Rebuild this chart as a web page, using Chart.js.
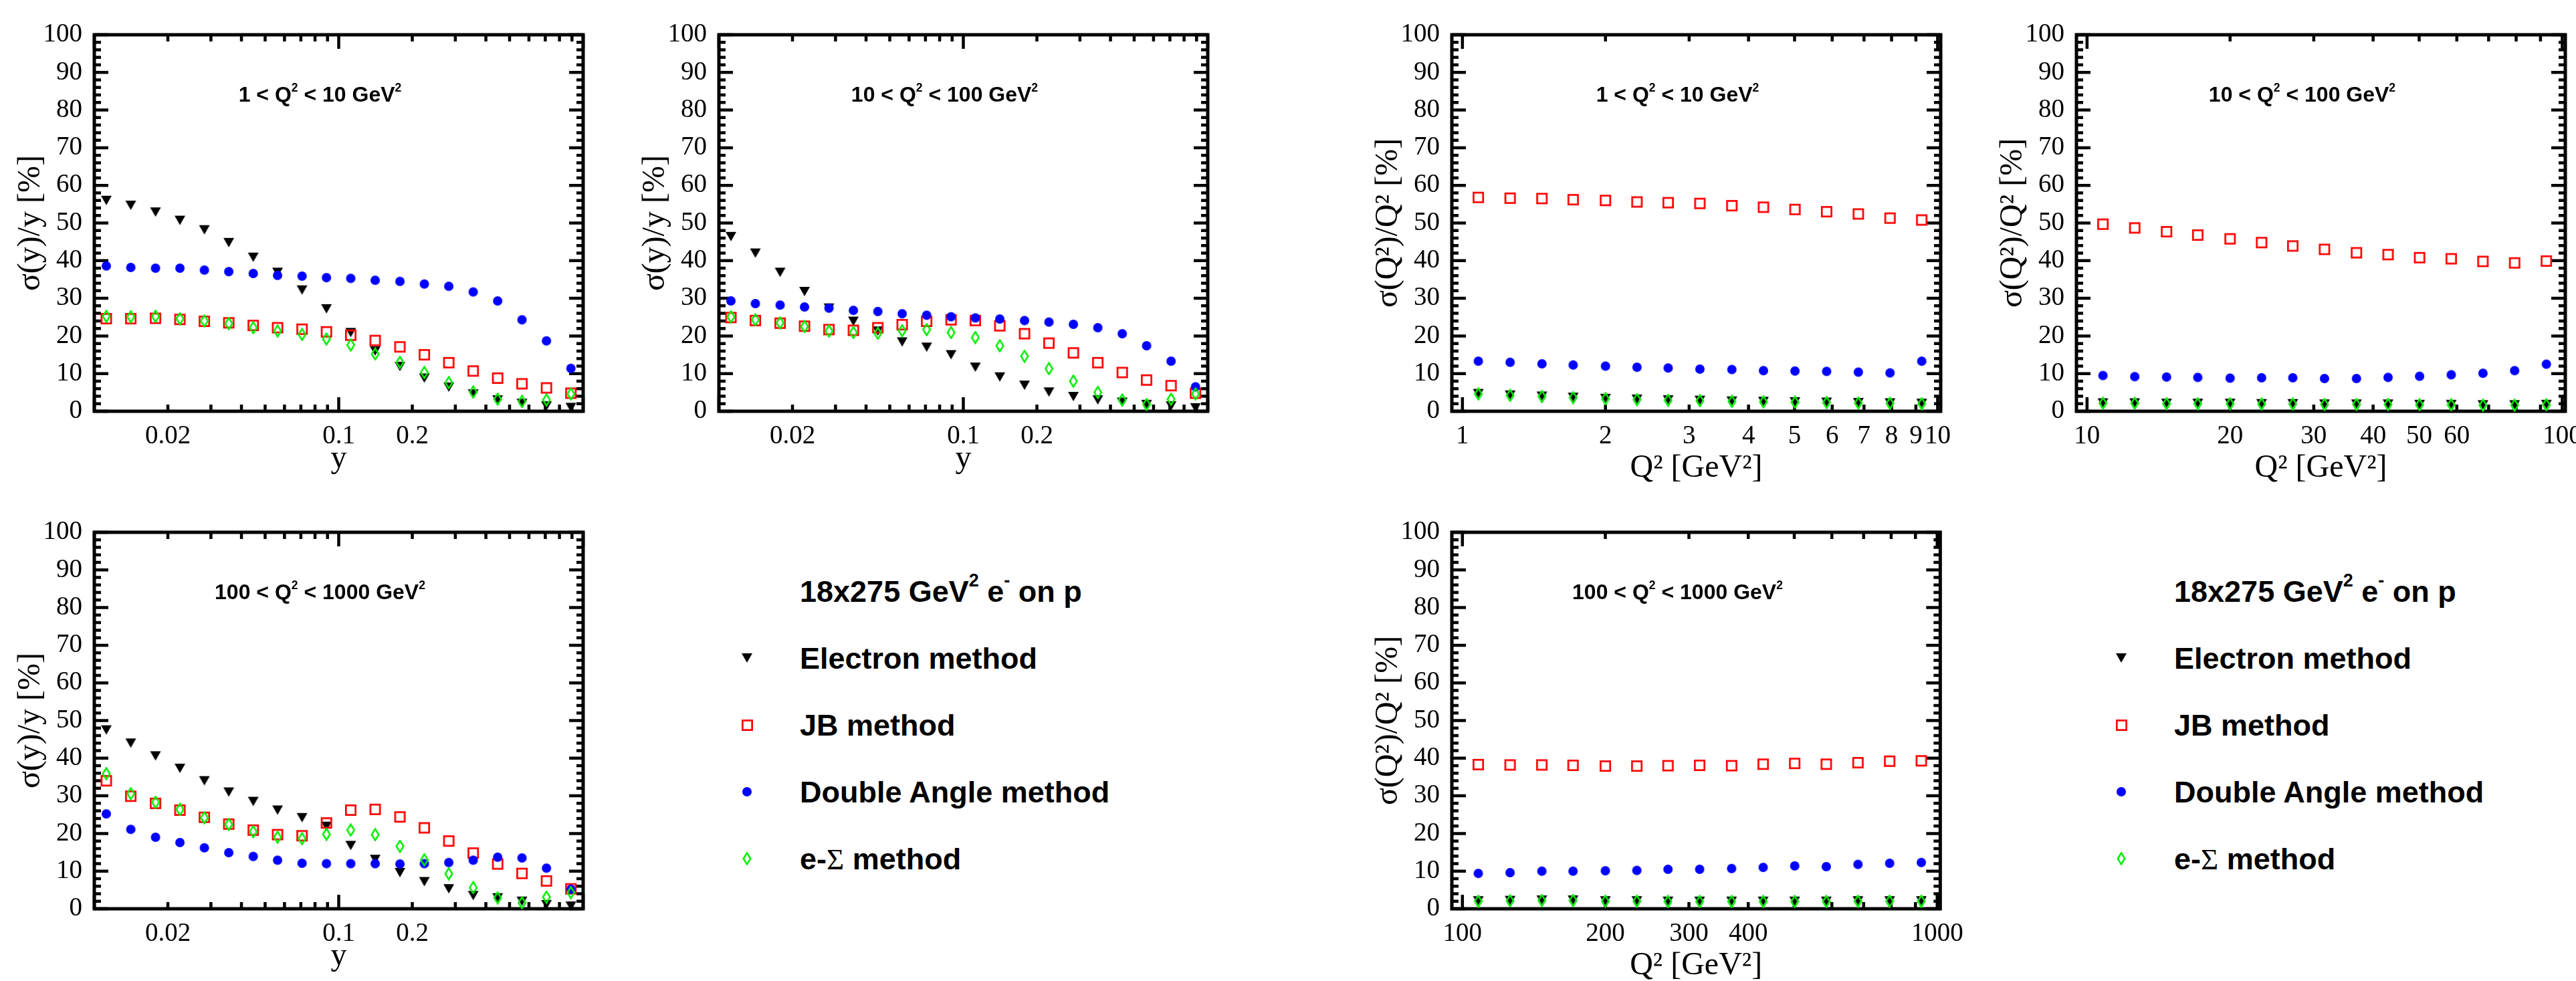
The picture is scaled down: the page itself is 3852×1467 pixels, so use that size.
<!DOCTYPE html>
<html>
<head>
<meta charset="utf-8">
<title>Resolution of y and Q2 reconstruction methods, 18x275 GeV2 e- on p</title>
<script src="https://cdn.jsdelivr.net/npm/chart.js@4.4.1/dist/chart.umd.min.js"></script>
<style>
  html, body { margin: 0; padding: 0; background: #fff; }
  body { position: relative; width: 3852px; height: 1467px; overflow: hidden; }
  .pane { position: absolute; }
  .ptitle { position: absolute; font: bold 32px "Liberation Sans", Arial, Helvetica, sans-serif;
            line-height: 32px; text-align: center; white-space: nowrap; color: #000; }
  .leg { position: absolute; font: bold 45px "Liberation Sans", Arial, Helvetica, sans-serif;
         line-height: 45px; white-space: nowrap; color: #000; }
  sup { font-size: 0.55em; line-height: 0; vertical-align: baseline; position: relative; top: -0.85em; }
  .leg sup { font-size: 0.6em; top: -0.87em; }
  .sym { font-family: "Liberation Serif", "Times New Roman", serif; font-weight: normal; }
  .mk { position: absolute; }
</style>
</head>
<body>
<script>
// ---- bin centres -------------------------------------------------------
const Y_BINS = [0.0112, 0.0141, 0.0178, 0.0224, 0.0282, 0.0355, 0.0447, 0.0562, 0.0708, 0.0891,
                0.112, 0.141, 0.178, 0.224, 0.282, 0.355, 0.447, 0.562, 0.708, 0.891];
const Q2_LOW  = [1.08, 1.26, 1.47, 1.71, 2.00, 2.33, 2.71, 3.16, 3.69, 4.30, 5.01, 5.84, 6.81, 7.94, 9.26];
const Q2_MID  = [10.8, 12.6, 14.7, 17.1, 20.0, 23.3, 27.1, 31.6, 36.9, 43.0, 50.1, 58.4, 68.1, 79.4, 92.6];
const Q2_HIGH = [108, 126, 147, 171, 200, 233, 271, 316, 369, 430, 501, 584, 681, 794, 926];

// ---- sigma(y)/y [%], 1 < Q2 < 10 GeV2 ---------------------------------
const ELEC_Y_LOW = [56.0, 54.7, 52.9, 50.7, 48.2, 44.8, 40.9, 36.9, 32.2, 27.2, 20.9, 16.0, 11.9, 8.8, 6.4, 4.6, 3.0, 2.1, 1.4, 1.0];
const JB_Y_LOW   = [24.6, 24.6, 24.7, 24.4, 23.9, 23.5, 22.8, 22.2, 21.8, 21.1, 20.2, 18.8, 17.1, 15.0, 12.9, 10.7, 8.8, 7.3, 6.2, 4.8];
const DA_Y_LOW   = [38.6, 38.2, 38.0, 38.0, 37.5, 37.1, 36.6, 36.1, 35.9, 35.5, 35.3, 34.8, 34.5, 33.8, 33.2, 31.7, 29.3, 24.3, 18.7, 11.4];
const ES_Y_LOW   = [25.2, 25.1, 25.2, 24.6, 24.0, 23.3, 22.2, 21.3, 20.4, 19.2, 17.6, 15.2, 13.0, 10.3, 7.6, 5.1, 3.2, 2.6, 3.0, 4.6];

// ---- sigma(y)/y [%], 10 < Q2 < 100 GeV2 -------------------------------
const ELEC_Y_MID = [46.4, 42.0, 36.9, 31.8, 27.4, 23.9, 21.3, 18.4, 17.0, 15.0, 11.7, 9.1, 6.9, 5.1, 3.9, 3.0, 2.4, 1.8, 1.4, 0.9];
const JB_Y_MID   = [24.9, 24.1, 23.4, 22.6, 21.7, 21.5, 22.2, 23.0, 23.9, 24.3, 24.1, 22.7, 20.6, 18.1, 15.5, 12.9, 10.3, 8.3, 6.8, 4.8];
const DA_Y_MID   = [29.3, 28.6, 28.2, 27.7, 27.4, 26.8, 26.5, 25.9, 25.5, 25.1, 24.8, 24.5, 24.1, 23.7, 23.1, 22.2, 20.6, 17.4, 13.3, 6.5];
const ES_Y_MID   = [25.1, 24.3, 23.5, 22.5, 21.3, 20.9, 20.7, 21.4, 21.7, 20.9, 19.6, 17.4, 14.6, 11.3, 8.0, 5.0, 3.0, 1.8, 3.2, 4.6];

// ---- sigma(y)/y [%], 100 < Q2 < 1000 GeV2 -----------------------------
const ELEC_Y_HIGH = [47.5, 44.0, 40.6, 37.3, 34.0, 31.0, 28.5, 26.2, 24.2, 21.9, 16.8, 13.1, 9.6, 7.2, 5.3, 3.5, 2.9, 2.0, 1.1, 0.7];
const JB_Y_HIGH   = [34.0, 29.9, 28.0, 26.2, 24.3, 22.5, 20.9, 19.7, 19.4, 22.8, 26.2, 26.4, 24.4, 21.5, 18.0, 14.8, 11.9, 9.4, 7.4, 5.3];
const DA_Y_HIGH   = [25.2, 21.1, 19.0, 17.6, 16.2, 14.9, 13.9, 12.9, 12.1, 12.0, 12.0, 12.0, 11.9, 12.0, 12.3, 12.9, 13.7, 13.5, 10.8, 5.2];
const ES_Y_HIGH   = [35.9, 30.6, 28.3, 26.4, 24.2, 22.4, 20.5, 19.0, 18.6, 19.8, 20.9, 19.7, 16.6, 13.0, 9.3, 5.6, 2.9, 1.6, 3.1, 4.3];

// ---- sigma(Q2)/Q2 [%] ---------------------------------------------------
const ELEC_Q_LOW = [4.7, 4.3, 4.0, 3.7, 3.4, 3.2, 3.0, 2.9, 2.7, 2.6, 2.5, 2.4, 2.3, 2.2, 2.1];
const JB_Q_LOW   = [56.8, 56.6, 56.5, 56.2, 56.0, 55.6, 55.4, 55.2, 54.6, 54.2, 53.6, 53.0, 52.4, 51.3, 50.8];
const DA_Q_LOW   = [13.3, 13.0, 12.6, 12.3, 12.0, 11.7, 11.5, 11.2, 11.1, 10.8, 10.7, 10.6, 10.4, 10.2, 13.3];
const ES_Q_LOW   = [4.6, 4.2, 3.9, 3.6, 3.3, 3.1, 2.9, 2.8, 2.6, 2.5, 2.4, 2.3, 2.2, 2.1, 2.0];

const ELEC_Q_MID = [2.2, 2.2, 2.1, 2.1, 2.1, 2.0, 2.0, 1.9, 1.9, 1.9, 1.8, 1.8, 1.7, 1.7, 1.8];
const JB_Q_MID   = [49.7, 48.7, 47.7, 46.8, 45.8, 44.8, 43.9, 43.0, 42.1, 41.6, 40.8, 40.5, 39.8, 39.4, 39.9];
const DA_Q_MID   = [9.5, 9.2, 9.1, 9.0, 8.8, 8.9, 8.9, 8.7, 8.7, 9.0, 9.3, 9.7, 10.1, 10.8, 12.5];
const ES_Q_MID   = [2.1, 2.1, 2.0, 2.0, 2.0, 1.9, 1.9, 1.8, 1.8, 1.8, 1.7, 1.7, 1.6, 1.6, 1.7];

const ELEC_Q_HIGH = [2.1, 2.2, 2.3, 2.3, 2.1, 2.1, 2.0, 2.0, 2.0, 2.0, 2.0, 2.0, 2.1, 2.1, 2.1];
const JB_Q_HIGH   = [38.3, 38.2, 38.2, 38.1, 37.9, 37.9, 38.0, 38.1, 38.0, 38.4, 38.6, 38.4, 38.8, 39.2, 39.3];
const DA_Q_HIGH   = [9.4, 9.6, 10.0, 10.0, 10.1, 10.2, 10.5, 10.5, 10.7, 11.0, 11.4, 11.2, 11.8, 12.1, 12.3];
const ES_Q_HIGH   = [2.0, 2.1, 2.2, 2.2, 2.0, 2.0, 1.9, 1.9, 1.9, 1.9, 1.9, 1.9, 2.0, 2.0, 2.0];

// ---- axis ticks and labels ----------------------------------------------
const Y_TICK_LABELS = [0, 10, 20, 30, 40, 50, 60, 70, 80, 90, 100];
const YBIN_X_LABELS = [0.02, 0.1, 0.2];
const QLOW_X_LABELS = [1, 2, 3, 4, 5, 6, 7, 8, 9, 10];
const QMID_X_LABELS = [10, 20, 30, 40, 50, 60, 100];
const QHIGH_X_LABELS = [100, 200, 300, 400, 1000];

const METHOD_NAMES = ['Electron method', 'JB method', 'Double Angle method', 'e-Σ method'];

// ---- marker glyphs -------------------------------------------------------
function markerCanvas(kind) {
  const c = document.createElement('canvas');
  const g = c.getContext('2d');
  if (kind === 0) {            // filled triangle, pointing down
    c.width = 18; c.height = 16;
    g.fillStyle = '#000';
    g.beginPath(); g.moveTo(1, 1); g.lineTo(17, 1); g.lineTo(9, 15); g.closePath(); g.fill();
  } else if (kind === 1) {     // open square
    c.width = 19; c.height = 19;
    g.strokeStyle = '#ff0000'; g.lineWidth = 2.7;
    g.strokeRect(2.35, 2.35, 14.3, 14.3);
  } else if (kind === 2) {     // filled circle
    c.width = 16; c.height = 16;
    g.fillStyle = '#0000ff';
    g.beginPath(); g.arc(8, 8, 7, 0, Math.PI * 2); g.fill();
  } else {                     // open elongated diamond
    c.width = 14; c.height = 20;
    g.strokeStyle = '#00ee00'; g.lineWidth = 2.5; g.lineJoin = 'miter';
    g.beginPath(); g.moveTo(7, 1.5); g.lineTo(12.3, 10); g.lineTo(7, 18.5); g.lineTo(1.7, 10); g.closePath(); g.stroke();
  }
  return c;
}
const MARKERS = [0, 1, 2, 3].map(markerCanvas);
// electron underneath, e-Sigma on top
const DRAW_ORDER = [4, 3, 2, 1];

// ---- frame with inward ticks on all four sides ----------------------------
const MAJOR_LEN = 21, MINOR_LEN = 10;
const frameTicks = {
  id: 'frameTicks',
  beforeDatasetsDraw(chart, args, o) {
    const { ctx, chartArea: a } = chart;
    const xs = chart.scales.x, ys = chart.scales.y;
    ctx.save();
    ctx.strokeStyle = '#000';
    ctx.lineWidth = 4.5;
    ctx.lineCap = 'butt';
    ctx.beginPath();
    const seg = (x0, y0, x1, y1) => { ctx.moveTo(x0, y0); ctx.lineTo(x1, y1); };
    for (let v = 0; v <= 100; v += 2) {
      const py = ys.getPixelForValue(v);
      const len = v % 10 === 0 ? MAJOR_LEN : MINOR_LEN;
      seg(a.left, py, a.left + len, py);
      seg(a.right, py, a.right - len, py);
    }
    const xTick = (v, len) => {
      const px = xs.getPixelForValue(v);
      seg(px, a.bottom, px, a.bottom - len);
      seg(px, a.top, px, a.top + len);
    };
    o.major.forEach(v => xTick(v, MAJOR_LEN));
    o.minor.forEach(v => xTick(v, MINOR_LEN));
    ctx.stroke();
    ctx.lineWidth = 5;
    ctx.strokeRect(a.left, a.top, a.right - a.left, a.bottom - a.top);
    ctx.restore();
  }
};

// ---- page layout -----------------------------------------------------------
const FRAME_W = 731, FRAME_H = 563;
const PAD_L = 141, PAD_T = 40, PAD_R = 40, PAD_B = 130;

function decadeMinors(start) {
  const out = [];
  for (let m = 2; m <= 9; m++) out.push(+(m * start).toPrecision(3));
  return out;
}

const PANELS = [
  { left: 141, top: 52, xs: Y_BINS, series: [ELEC_Y_LOW, JB_Y_LOW, DA_Y_LOW, ES_Y_LOW],
    xMin: 0.01, xMax: 1, labels: YBIN_X_LABELS, major: [0.01, 0.1, 1], minor: decadeMinors(0.01).concat(decadeMinors(0.1)),
    xTitle: 'y', yTitle: 'σ(y)/y [%]', xTitlePad: 30, title: '1 &lt; Q<sup>2</sup> &lt; 10 GeV<sup>2</sup>' },
  { left: 1075, top: 52, xs: Y_BINS, series: [ELEC_Y_MID, JB_Y_MID, DA_Y_MID, ES_Y_MID],
    xMin: 0.01, xMax: 1, labels: YBIN_X_LABELS, major: [0.01, 0.1, 1], minor: decadeMinors(0.01).concat(decadeMinors(0.1)),
    xTitle: 'y', yTitle: 'σ(y)/y [%]', xTitlePad: 30, title: '10 &lt; Q<sup>2</sup> &lt; 100 GeV<sup>2</sup>' },
  { left: 2171, top: 52, xs: Q2_LOW, series: [ELEC_Q_LOW, JB_Q_LOW, DA_Q_LOW, ES_Q_LOW],
    xMin: 0.95, xMax: 10.15, labels: QLOW_X_LABELS, major: [1, 10], minor: decadeMinors(1),
    xTitle: 'Q² [GeV²]', yTitle: 'σ(Q²)/Q² [%]', xTitlePad: 16, title: '1 &lt; Q<sup>2</sup> &lt; 10 GeV<sup>2</sup>' },
  { left: 3105, top: 52, xs: Q2_MID, series: [ELEC_Q_MID, JB_Q_MID, DA_Q_MID, ES_Q_MID],
    xMin: 9.5, xMax: 101.5, labels: QMID_X_LABELS, major: [10, 100], minor: decadeMinors(10),
    xTitle: 'Q² [GeV²]', yTitle: 'σ(Q²)/Q² [%]', xTitlePad: 16, title: '10 &lt; Q<sup>2</sup> &lt; 100 GeV<sup>2</sup>' },
  { left: 141, top: 796, xs: Y_BINS, series: [ELEC_Y_HIGH, JB_Y_HIGH, DA_Y_HIGH, ES_Y_HIGH],
    xMin: 0.01, xMax: 1, labels: YBIN_X_LABELS, major: [0.01, 0.1, 1], minor: decadeMinors(0.01).concat(decadeMinors(0.1)),
    xTitle: 'y', yTitle: 'σ(y)/y [%]', xTitlePad: 30, title: '100 &lt; Q<sup>2</sup> &lt; 1000 GeV<sup>2</sup>' },
  { left: 2171, top: 796, xs: Q2_HIGH, series: [ELEC_Q_HIGH, JB_Q_HIGH, DA_Q_HIGH, ES_Q_HIGH],
    xMin: 95, xMax: 1015, labels: QHIGH_X_LABELS, major: [100, 1000], minor: decadeMinors(100),
    xTitle: 'Q² [GeV²]', yTitle: 'σ(Q²)/Q² [%]', xTitlePad: 16, title: '100 &lt; Q<sup>2</sup> &lt; 1000 GeV<sup>2</sup>' }
];

Chart.defaults.font.family = "'Liberation Serif', 'Times New Roman', Times, serif";
Chart.defaults.color = '#000';

function buildPanel(p) {
  const cv = document.createElement('canvas');
  cv.className = 'pane';
  cv.width = PAD_L + FRAME_W + PAD_R;
  cv.height = PAD_T + FRAME_H + PAD_B;
  cv.style.left = (p.left - PAD_L) + 'px';
  cv.style.top = (p.top - PAD_T) + 'px';
  document.body.appendChild(cv);

  const datasets = METHOD_NAMES.map((name, k) => ({
    label: name,
    data: p.xs.map((x, i) => ({ x: x, y: p.series[k][i] })),
    pointStyle: MARKERS[k],
    pointRadius: 7,
    pointHoverRadius: 7,
    order: DRAW_ORDER[k],
    clip: false
  }));

  new Chart(cv, {
    type: 'scatter',
    data: { datasets },
    options: {
      responsive: false,
      animation: false,
      devicePixelRatio: 1,
      events: [],
      layout: { padding: { left: 0, top: PAD_T, right: PAD_R, bottom: 0 } },
      plugins: {
        legend: { display: false },
        tooltip: { enabled: false },
        frameTicks: { major: p.major, minor: p.minor }
      },
      scales: {
        x: {
          type: 'logarithmic',
          min: p.xMin, max: p.xMax,
          grid: { display: false }, border: { display: false },
          afterFit: s => { s.height = PAD_B; },
          afterBuildTicks: s => { s.ticks = p.labels.map(v => ({ value: v })); },
          ticks: { autoSkip: false, maxRotation: 0, minRotation: 0, padding: 6,
                   font: { size: 39 }, callback: (v, i) => String(p.labels[i]) },
          title: { display: true, text: p.xTitle, font: { size: 48 }, padding: { top: 0, bottom: p.xTitlePad } }
        },
        y: {
          type: 'linear',
          min: 0, max: 100,
          grid: { display: false }, border: { display: false },
          afterFit: s => { s.width = PAD_L; },
          afterBuildTicks: s => { s.ticks = Y_TICK_LABELS.map(v => ({ value: v })); },
          ticks: { padding: 10, font: { size: 39 } },
          title: { display: true, text: p.yTitle, font: { size: 48 }, padding: { top: 18, bottom: 0 } }
        }
      }
    },
    plugins: [frameTicks]
  });

  // range caption inside the frame
  const t = document.createElement('div');
  t.className = 'ptitle';
  t.style.left = (p.left - 28) + 'px';
  t.style.top = (p.top + 73) + 'px';
  t.style.width = FRAME_W + 'px';
  t.innerHTML = p.title;
  document.body.appendChild(t);
}
PANELS.forEach(buildPanel);

// ---- legends ---------------------------------------------------------------
const LEGENDS = [ { markerX: 1117, textX: 1196 }, { markerX: 3172, textX: 3251 } ];
const LEGEND_TITLE_Y = 884;
const LEGEND_ROW_Y = [984, 1084, 1184, 1284];

function addText(html, x, yCenter) {
  const d = document.createElement('div');
  d.className = 'leg';
  d.style.left = x + 'px';
  d.style.top = (yCenter - 22) + 'px';
  d.innerHTML = html;
  document.body.appendChild(d);
}

LEGENDS.forEach(L => {
  addText('18x275 GeV<sup>2</sup> e<sup>-</sup> on p', L.textX, LEGEND_TITLE_Y);
  METHOD_NAMES.forEach((name, k) => {
    const src = MARKERS[k];
    const c = document.createElement('canvas');
    c.className = 'mk';
    c.width = src.width; c.height = src.height;
    c.getContext('2d').drawImage(src, 0, 0);
    c.style.left = (L.markerX - src.width / 2) + 'px';
    c.style.top = (LEGEND_ROW_Y[k] - src.height / 2) + 'px';
    document.body.appendChild(c);
    const html = name.replace('Σ', '<span class="sym">Σ</span>');
    addText(html, L.textX, LEGEND_ROW_Y[k]);
  });
});
</script>
</body>
</html>
